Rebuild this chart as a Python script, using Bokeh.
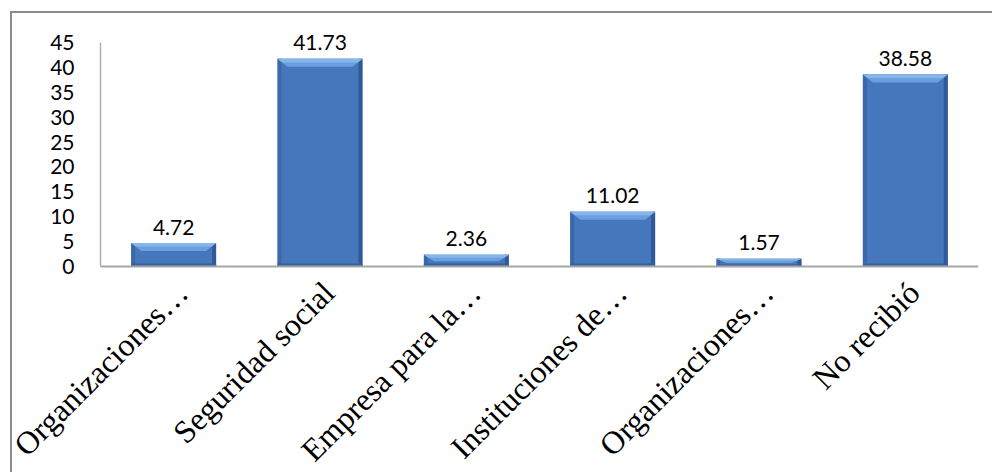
import numpy as np
from bokeh.plotting import figure
from bokeh.models import Range1d, FixedTicker, ColumnDataSource, InlineStyleSheet
from bokeh.core.properties import value
from bokeh.embed import file_html
from bokeh.resources import INLINE

# Source of support received (%)
categories = ["Organizaciones…", "Seguridad social", "Empresa para la…",
              "Instituciones de…", "Organizaciones…", "No recibió"]
percentages = [4.72, 41.73, 2.36, 11.02, 1.57, 38.58]
y_ticks = [0, 5, 10, 15, 20, 25, 30, 35, 40, 45]

W, H = 992, 472
FRAME_L, FRAME_R, FRAME_T = 12, 978, 14   # drawing area on the canvas
AXIS_X = 100                              # canvas column of the value axis
ZERO_PX = 266                             # canvas row of the zero line
AXIS_MAX = 45
PY = AXIS_MAX / 224.0                     # data units per pixel (vertical)
n = len(categories)
PX = n / (FRAME_R - AXIS_X)               # data units per pixel (horizontal)

# the frame covers the value-label band above the axis and the rotated
# category labels below it; the axes sit on x=0 / y=0 inside it
x_rng = Range1d(-(AXIS_X - FRAME_L) * PX, n)
y_rng = Range1d(-(H - ZERO_PX) * PY, (ZERO_PX - FRAME_T) * PY)

p = figure(width=W, height=H, x_range=x_rng, y_range=y_rng,
           output_backend="svg", toolbar_location=None,
           min_border_left=FRAME_L, min_border_right=W - FRAME_R,
           min_border_top=FRAME_T, min_border_bottom=0)
p.outline_line_color = None
p.xgrid.visible = False
p.ygrid.visible = False
p.background_fill_color = "white"
p.border_fill_color = "white"

# outer frame line (top and left edges of the chart area)
p.stylesheets = [InlineStyleSheet(css="""
:host { position: relative; }
:host::after {
  content: ""; position: absolute; left: 10px; top: 11px; right: 0; bottom: 0;
  border-top: 2px solid #8c8c8c; border-left: 2px solid #8c8c8c;
  pointer-events: none;
}
""")]

xs = np.arange(n) + 0.5
vals = np.array(percentages)
bw = 0.58
x0 = xs - bw / 2
x1 = xs + bw / 2

# bar body
p.vbar(x=xs, top=vals, width=bw, bottom=0, fill_color="#4677bd", line_color=None)

# side and bottom shading
side = 4 * PX
p.quad(left=x0, right=x0 + side, bottom=0, top=vals, fill_color="#3b68a8", line_color=None)
p.quad(left=x1 - side, right=x1, bottom=0, top=vals, fill_color="#2f5a96", line_color=None)
bot_h = np.minimum(3 * PY, vals / 4)
p.quad(left=x0, right=x1, bottom=0, top=bot_h, fill_color="#34609e", line_color=None)

# top bevel (lighter trapezoid)
bev_h = np.minimum(8 * PY, vals * 0.55)
dx = 10 * PX
bev_xs = [[a, b, b - dx, a + dx] for a, b in zip(x0, x1)]
bev_ys = [[t, t, t - h, t - h] for t, h in zip(vals, bev_h)]
p.patches(xs=bev_xs, ys=bev_ys, fill_color="#6b9fdd", line_color=None)
hl_h = bev_h * 0.45
hl_xs = [[a, b, b - dx * 0.45, a + dx * 0.45] for a, b in zip(x0, x1)]
hl_ys = [[t, t, t - h, t - h] for t, h in zip(vals, hl_h)]
p.patches(xs=hl_xs, ys=hl_ys, fill_color="#86b6ec", line_color=None)

# value labels above each bar
src = ColumnDataSource(dict(x=xs, y=vals, t=[f"{v:.2f}" for v in percentages]))
p.text(x="x", y="y", text="t", source=src, y_offset=-16,
       text_align="center", text_baseline="alphabetic",
       text_font=value("Lato"), text_font_size="21px", text_color="black")

# category names, rotated 45 degrees under each bar
cat_src = ColumnDataSource(dict(x=xs, y=np.zeros(n), t=categories))
p.text(x="x", y="y", text="t", source=cat_src, angle=np.pi / 4,
       x_offset=-4, y_offset=8, text_align="right", text_baseline="top",
       text_font=value("Liberation Serif"), text_font_size="32px", text_color="black")

# x axis drawn on the zero line
xa = p.xaxis[0]
xa.fixed_location = 0
xa.bounds = (0, n)
xa.ticker = FixedTicker(ticks=[])
xa.major_tick_line_color = None
xa.minor_tick_line_color = None
xa.axis_line_color = "#a6a6a6"
xa.axis_line_width = 2

# value axis drawn at x=0
ya = p.yaxis[0]
ya.fixed_location = 0
ya.ticker = FixedTicker(ticks=y_ticks)
ya.bounds = (0, AXIS_MAX)
ya.major_label_text_font = "Lato"
ya.major_label_text_font_size = "21px"
ya.major_label_text_color = "black"
ya.major_label_standoff = 20
ya.major_tick_line_color = None
ya.minor_tick_line_color = None
ya.axis_line_color = "#b0b0b0"
ya.axis_line_width = 1.5

open("out.html", "w").write(file_html(p, INLINE))
